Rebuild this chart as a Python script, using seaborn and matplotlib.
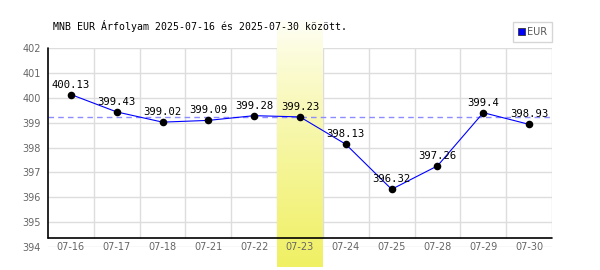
import numpy as np
import pandas as pd
import matplotlib
matplotlib.use("Agg")
import matplotlib.pyplot as plt
import seaborn as sns
from matplotlib.patches import Patch
from matplotlib.transforms import blended_transform_factory

# ---- data ----
dates = ["07-16", "07-17", "07-18", "07-21", "07-22", "07-23",
         "07-24", "07-25", "07-28", "07-29", "07-30"]
rates = [400.13, 399.43, 399.02, 399.09, 399.28, 399.23,
         398.13, 396.32, 397.26, 399.4, 398.93]
highlight_date = "07-23"
reference_rate = 399.23
yticks = [394, 395, 396, 397, 398, 399, 400, 401, 402]
title = "MNB EUR Árfolyam 2025-07-16 és 2025-07-30 között."
series_name = "EUR"

df = pd.DataFrame({"date": dates, "rate": rates})
df["pos"] = np.arange(len(dates))

sns.set_theme(style="white")
plt.rcParams['font.family'] = ['DejaVu Sans']

W, H = 600, 270
fig = plt.figure(figsize=(6, 2.7), dpi=100)
# plot area: 48..552 px horizontally, 402 at y=48px, 394 at y=247px
ax = fig.add_axes([48 / W, 1 - 247 / H, 504 / W, 199 / H])
n = len(dates)
ax.set_xlim(-0.5, n - 0.5)
ax.set_ylim(yticks[0], yticks[-1])
for s in ax.spines.values():
    s.set_visible(False)

axis_y = 9 / 199  # x-axis line sits slightly above the lowest gridline
grid_c = "#dddddd"
# horizontal gridlines
for t in yticks:
    ax.axhline(t, color=grid_c, lw=1.0, zorder=0.5)
# vertical gridlines (category boundaries)
for b in np.arange(n) + 0.5:
    ax.axvline(b, ymin=axis_y, ymax=1, color=grid_c, lw=1.0, zorder=0.5)

# highlight band with vertical gradient
hi = dates.index(highlight_date)
ylo, yhi = yticks[0], yticks[-1]
span = yhi - ylo
band_bottom = ylo - span * (20 / 199)
band_top = yhi + span * (28 / 199)
grad = np.linspace(0, 1, 256)[:, None] ** 0.8
top_c = np.array([1.0, 1.0, 0.98])
bot_c = np.array([240, 240, 100]) / 255
img = top_c[None, None, :] * (1 - grad[:, :, None]) + bot_c[None, None, :] * grad[:, :, None]
ax.imshow(img, extent=[hi - 0.5, hi + 0.5, band_bottom, band_top], aspect="auto",
          origin="upper", clip_on=False, zorder=1, interpolation="bilinear")
ax.set_xlim(-0.5, n - 0.5)
ax.set_ylim(ylo, yhi)

# reference dashed line
ax.axhline(reference_rate, color="#8c8cff", lw=1.0, ls=(0, (4, 3)), zorder=1.5)

# axis lines
tr = blended_transform_factory(ax.transAxes, ax.transAxes)
ax.plot([0, 0], [axis_y, 1], color="black", lw=1.2, transform=tr, clip_on=False, zorder=3)
ax.plot([0, 1], [axis_y, axis_y], color="black", lw=1.2, transform=tr, clip_on=False, zorder=3)

# data line + markers
sns.lineplot(data=df, x="pos", y="rate", color="blue", lw=0.8, ax=ax, zorder=4, legend=False)
sns.scatterplot(data=df, x="pos", y="rate", color="black", s=30, edgecolor="black",
                linewidth=0, ax=ax, zorder=5, legend=False)
for p, v in zip(df["pos"], df["rate"]):
    ax.annotate(f"{v:g}", (p, v), xytext=(0, 5), textcoords="offset pixels",
                ha="center", va="bottom", fontsize=7.6, family="DejaVu Sans Mono",
                color="black", zorder=6)

ax.set_xlabel("")
ax.set_ylabel("")
ax.set_xticks(df["pos"])
ax.set_xticklabels(dates)
ax.set_yticks(yticks)
ax.set_yticklabels([str(t) for t in yticks])
ax.tick_params(axis="both", length=0, labelsize=7, labelcolor="#666666")
ax.tick_params(axis="x", pad=0)
ax.tick_params(axis="y", pad=5)
plt.setp(ax.get_xticklabels(), va="center")
ax.xaxis.set_zorder(7)
ax.yaxis.set_zorder(7)
ax.set_xlim(-0.5, n - 0.5)
ax.set_ylim(ylo, yhi)

# title
fig.text(53 / W, 1 - 26 / H, title, ha="left", va="center",
         family="DejaVu Sans Mono", fontsize=7.1, color="black")

# legend
leg = ax.legend(handles=[Patch(facecolor="blue", edgecolor="#333333", lw=0.6)],
                labels=[series_name], loc="upper right",
                bbox_to_anchor=(552 / W, 1 - 22 / H), bbox_transform=fig.transFigure,
                frameon=True, fancybox=False, fontsize=7, handlelength=0.7,
                handleheight=0.7, handletextpad=0.2, borderpad=0.5,
                borderaxespad=0, labelcolor="#555555")
leg.get_frame().set_edgecolor("#cccccc")
leg.get_frame().set_linewidth(1.0)
leg.set_zorder(8)

fig.savefig("out.png", dpi=100)
